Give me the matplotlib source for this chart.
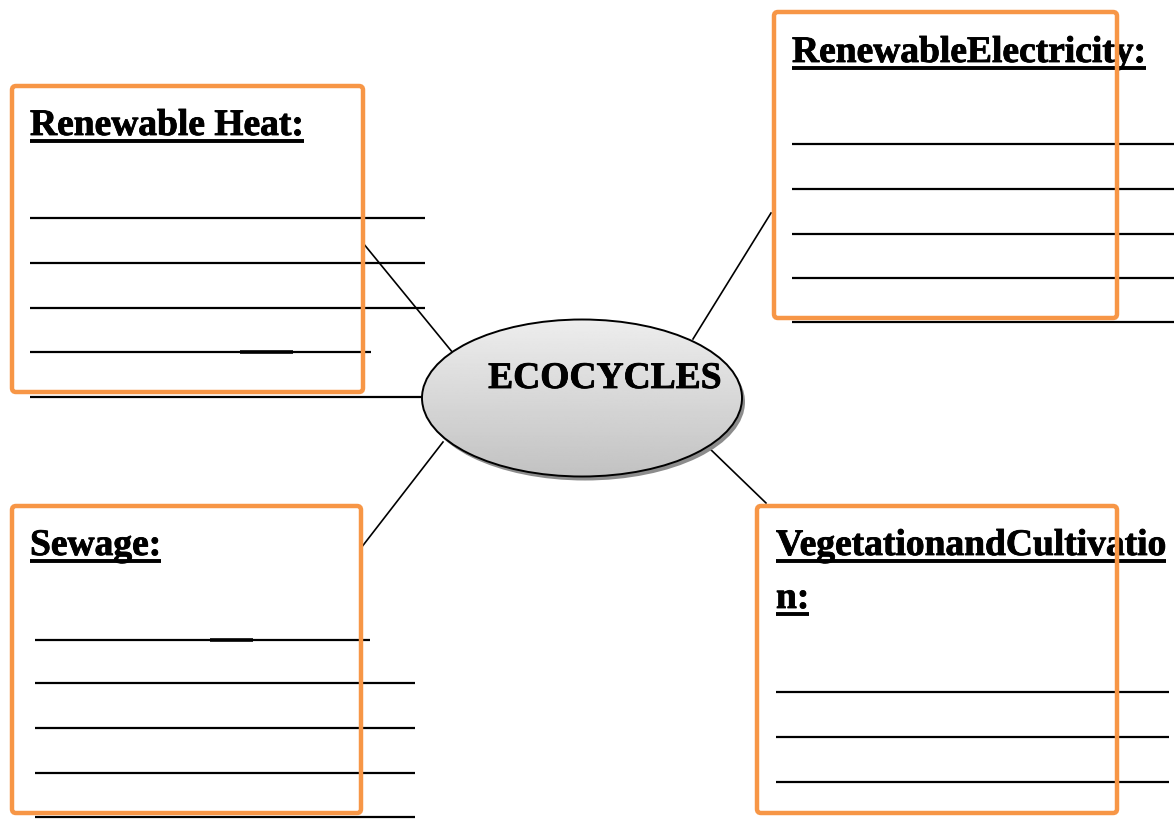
import matplotlib.pyplot as plt
import matplotlib.patheffects as pe
import numpy as np
from matplotlib.patches import FancyBboxPatch, Ellipse

# panel titles and the centre label
titles = ['Renewable Heat:', 'RenewableElectricity:', 'Sewage:',
          'VegetationandCultivatio', 'n:']
center_label = 'ECOCYCLES'

ORANGE = '#F79646'
FONT = dict(fontfamily='Liberation Serif', fontweight='bold', fontsize=27)
BOLDER = [pe.withStroke(linewidth=0.6, foreground='black')]

# layout in pixel coordinates (x0, y0, x1, y1)
boxes = [(12, 86, 363, 392), (774, 12, 1117, 318),
         (12, 506, 361, 813), (757, 506, 1117, 813)]
title_pos = [(30, 135), (792, 62), (30, 555), (776, 555), (776, 608)]

# blank answer rules: (y, x0, x1)
rules = [
    (218, 30, 425), (263, 30, 425), (308, 30, 425), (352, 30, 371), (397, 30, 425),
    (144, 792, 1174), (189, 792, 1174), (234, 792, 1174), (278, 792, 1174), (322, 792, 1174),
    (640, 35, 370), (683, 35, 415), (728, 35, 415), (773, 35, 415), (817, 35, 415),
    (692, 776, 1169), (737, 776, 1169), (782, 776, 1169),
]
thick_bits = [(352, 240, 293), (640, 210, 253)]

# connectors from the boxes to the ellipse
connectors = [((363, 243), (453, 353)), ((771, 213), (693, 339)),
              ((361, 548), (443, 442)), ((707, 446), (766, 503))]

ell_center = (582, 398)
ell_w, ell_h = 320, 157


def main():
    fig = plt.figure(figsize=(11.74, 8.23), dpi=100)
    ax = fig.add_axes([0, 0, 1, 1])
    ax.set_xlim(0, 1174)
    ax.set_ylim(823, 0)
    ax.axis('off')

    for y, x0, x1 in rules:
        ax.plot([x0, x1], [y, y], color='black', lw=1.6, zorder=2,
                solid_capstyle='butt')
    for y, x0, x1 in thick_bits:
        ax.plot([x0, x1], [y, y], color='black', lw=2.6, zorder=2,
                solid_capstyle='butt')

    for (a, b) in connectors:
        ax.plot([a[0], b[0]], [a[1], b[1]], color='black', lw=1.2, zorder=2)

    # ellipse with shadow and grey gradient
    shadow = Ellipse((ell_center[0] + 3, ell_center[1] + 4), ell_w, ell_h,
                     facecolor='#8c8c8c', edgecolor='none', zorder=3)
    ax.add_patch(shadow)
    ell = Ellipse(ell_center, ell_w, ell_h, facecolor='none',
                  edgecolor='black', lw=1.4, zorder=5)
    ax.add_patch(ell)
    grad = np.linspace(0.93, 0.76, 256)[:, None]
    im = ax.imshow(grad, cmap='gray', vmin=0, vmax=1, aspect='auto',
                   extent=(ell_center[0] - ell_w / 2, ell_center[0] + ell_w / 2,
                           ell_center[1] + ell_h / 2, ell_center[1] - ell_h / 2),
                   origin='upper', zorder=4)
    clip = Ellipse(ell_center, ell_w, ell_h, transform=ax.transData)
    im.set_clip_path(clip)
    ax.text(605, 388, center_label, ha='center', va='baseline', zorder=6,
            path_effects=BOLDER, **FONT)
    ax.set_xlim(0, 1174)
    ax.set_ylim(823, 0)

    for (x0, y0, x1, y1) in boxes:
        ax.add_patch(FancyBboxPatch((x0, y0), x1 - x0, y1 - y0,
                                    boxstyle='round,pad=0,rounding_size=4',
                                    facecolor='none', edgecolor=ORANGE,
                                    lw=3.2, zorder=4))

    texts = []
    for t, (x, y) in zip(titles, title_pos):
        texts.append((ax.text(x, y, t, ha='left', va='baseline', zorder=3,
                              path_effects=BOLDER, **FONT), y))

    # underline the titles
    fig.canvas.draw()
    r = fig.canvas.get_renderer()
    inv = ax.transData.inverted()
    for t, y in texts:
        bb = t.get_window_extent(r)
        xa = inv.transform((bb.x0, bb.y0))[0]
        xb = inv.transform((bb.x1, bb.y0))[0]
        ax.plot([xa, xb], [y + 6, y + 6], color='black', lw=2.8, zorder=3,
                solid_capstyle='butt')

    plt.savefig('out.png', dpi=100)


if __name__ == "__main__":
    main()
